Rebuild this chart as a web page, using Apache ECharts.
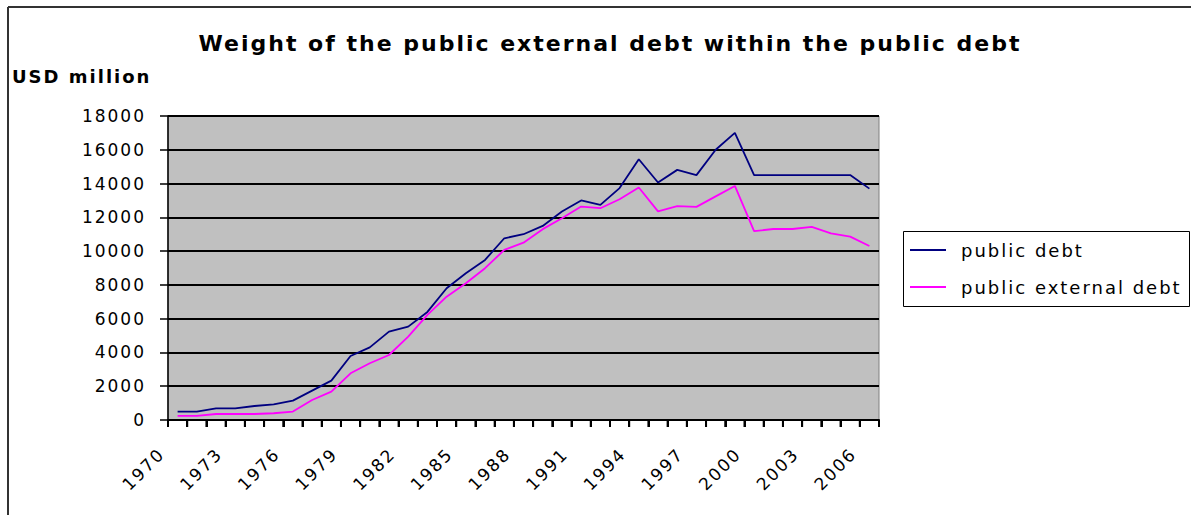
<!DOCTYPE html>
<html><head><meta charset="utf-8">
<script src="https://cdn.jsdelivr.net/npm/echarts@6/dist/echarts.min.js"></script>
<style>html,body{margin:0;padding:0;background:#fff}#c{width:1191px;height:515px}#c text{letter-spacing:2px}</style>
</head><body><div id="c"></div>
<script>
const years = [];
for (let y = 1970; y <= 2006; y++) years.push(String(y));
const publicDebt = [490, 490, 690, 690, 830, 930, 1150, 1740, 2330, 3790, 4300, 5230, 5530, 6400, 7800, 8690, 9480, 10760, 11000, 11490, 12340, 13000, 12740, 13730, 15440, 14060, 14810, 14500, 16000, 17000, 14500, 14500, 14500, 14500, 14500, 14500, 13700];
const publicExternalDebt = [240, 240, 355, 355, 355, 400, 500, 1185, 1680, 2765, 3360, 3850, 4940, 6220, 7300, 8100, 8990, 10070, 10500, 11300, 11950, 12640, 12540, 13070, 13770, 12350, 12660, 12620, 13240, 13860, 11180, 11310, 11310, 11430, 11050, 10860, 10300];
const seriesNames = ['public debt', 'public external debt'];
const yTicks = {min: 0, max: 18000, interval: 2000};

const chart = echarts.init(document.getElementById('c'), null, {renderer: 'svg'});
const F = 'DejaVu Sans';

function tickItem(params, api) {
  const p = api.coord([api.value(0), 0]);
  const w = api.size([1, 0])[0];
  const x0 = p[0] - w / 2;
  const st = {stroke: '#000', lineWidth: 2};
  const children = [
    {type: 'line', shape: {x1: x0, y1: p[1], x2: x0 + w, y2: p[1]}, style: st},
    {type: 'line', shape: {x1: x0, y1: p[1], x2: x0, y2: p[1] + 7}, style: st}
  ];
  if (params.dataIndex === years.length - 1) {
    children.push({type: 'line', shape: {x1: x0 + w, y1: p[1], x2: x0 + w, y2: p[1] + 7}, style: st});
  }
  return {type: 'group', children: children};
}

chart.setOption({
  animation: false,
  backgroundColor: '#fff',
  title: {
    text: 'Weight of the public external debt within the public debt',
    left: 605, top: 27, textAlign: 'center',
    textStyle: {fontFamily: F, fontWeight: 'bold', fontSize: 22, color: '#000'}
  },
  graphic: [
    {type: 'line', z: -1, shape: {x1: 8, y1: 7, x2: 1191, y2: 7}, style: {stroke: '#333', lineWidth: 2}},
    {type: 'line', z: -1, shape: {x1: 8, y1: 7, x2: 8, y2: 515}, style: {stroke: '#333', lineWidth: 2}},
    {type: 'rect', z: -1, shape: {x: 903.5, y: 231.5, width: 286, height: 75}, style: {fill: '#fff', stroke: '#000', lineWidth: 1}},
    {type: 'text', left: 12, top: 67, style: {text: 'USD million', font: 'bold 18px "DejaVu Sans"', fill: '#000'}}
  ],
  legend: {
    orient: 'vertical', left: 904, top: 239,
    padding: [2, 8, 2, 6],
    itemGap: 19, itemWidth: 36, itemHeight: 2, icon: 'rect',
    textStyle: {fontFamily: F, fontSize: 18, color: '#000', padding: [0, 0, 0, 10]},
    data: seriesNames
  },
  grid: [
    {left: 168, right: 312, top: 116, bottom: 95,
     show: true, backgroundColor: '#C0C0C0', borderColor: '#808080', borderWidth: 1},
    {left: 152, right: 328, top: 116, bottom: 95, show: false}
  ],
  xAxis: [
    {type: 'category', gridIndex: 0, data: years, boundaryGap: true,
     axisLine: {show: true, onZero: false, lineStyle: {color: '#000', width: 2}},
     axisTick: {show: true, interval: 0, length: 7, lineStyle: {color: '#000', width: 2}},
     axisLabel: {show: false}},
    {type: 'category', gridIndex: 1, data: years, boundaryGap: true,
     axisLine: {show: false}, axisTick: {show: false},
     axisLabel: {interval: 2, rotate: 45, margin: 31, fontFamily: F, fontSize: 17, color: '#000'}}
  ],
  yAxis: [
    {type: 'value', gridIndex: 0, min: yTicks.min, max: yTicks.max, interval: yTicks.interval,
     axisLine: {show: true, lineStyle: {color: '#000', width: 1.5}},
     axisTick: {show: true, length: 8, lineStyle: {color: '#000', width: 1.5}},
     axisLabel: {margin: 22, fontFamily: F, fontSize: 17, color: '#000', formatter: v => String(v)},
     splitLine: {show: true, lineStyle: {color: '#000', width: 1.8}}},
    {type: 'value', gridIndex: 1, min: yTicks.min, max: yTicks.max, show: false}
  ],
  series: [
    {name: seriesNames[0], type: 'line', xAxisIndex: 0, yAxisIndex: 0, data: publicDebt, showSymbol: false, symbol: 'none',
     itemStyle: {color: '#000080'}, lineStyle: {color: '#000080', width: 1.8}},
    {name: seriesNames[1], type: 'line', xAxisIndex: 0, yAxisIndex: 0, data: publicExternalDebt, showSymbol: false, symbol: 'none',
     itemStyle: {color: '#FF00FF'}, lineStyle: {color: '#FF00FF', width: 1.8}},
    {name: 'axis ticks', type: 'custom', xAxisIndex: 0, yAxisIndex: 0, silent: true, clip: false, z: 20,
     renderItem: tickItem, data: years.map(y => [y, 0])}
  ]
});
</script></body></html>
